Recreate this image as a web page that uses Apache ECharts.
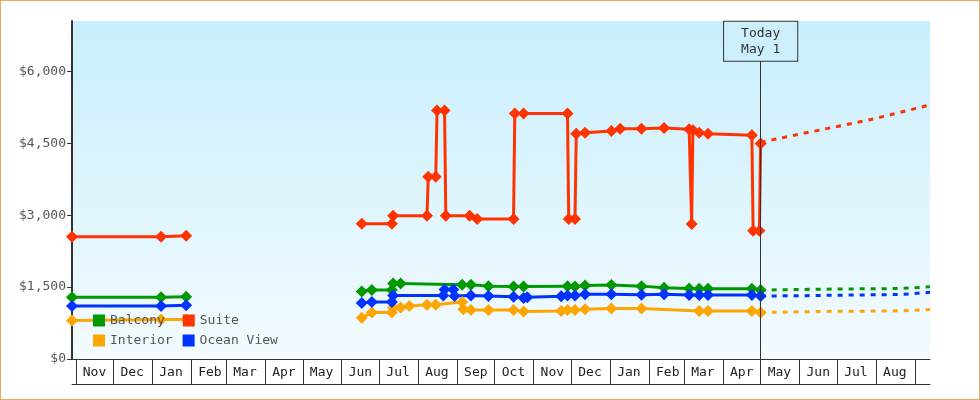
<!DOCTYPE html>
<html><head><meta charset="utf-8">
<script src="https://cdn.jsdelivr.net/npm/echarts@6/dist/echarts.min.js"></script>
<style>html,body{margin:0;padding:0;background:#fff}#c{width:978px;height:398px;border:1px solid #e8a860}</style>
</head><body><div id="c"></div>
<script>
const monthNames = ['Jan','Feb','Mar','Apr','May','Jun','Jul','Aug','Sep','Oct','Nov','Dec'];
const yTicks = [0,1500,3000,4500,6000];
const today = '2023-05-01';
const firstMonth = '2021-11-01', lastMonth = '2023-08-01';

const suite = [['2021-10-29',2550],['2022-01-08',2550],['2022-01-28',2570],null,
 ['2022-06-17',2820],['2022-07-11',2820],['2022-07-12',2986],['2022-08-08',2986],['2022-08-09',3800],['2022-08-15',3800],
 ['2022-08-16',5185],['2022-08-22',5185],['2022-08-23',2986],['2022-09-11',2986],['2022-09-17',2920],['2022-10-16',2920],
 ['2022-10-17',5123],['2022-10-24',5123],['2022-11-28',5123],['2022-11-29',2920],['2022-12-04',2920],['2022-12-05',4700],
 ['2022-12-12',4720],['2023-01-02',4756],['2023-01-09',4800],['2023-01-26',4800],['2023-02-13',4818],['2023-03-05',4791],
 ['2023-03-07',2814],['2023-03-08',4770],['2023-03-13',4720],['2023-03-20',4700],['2023-04-24',4667],['2023-04-25',2675],
 ['2023-04-30',2675],['2023-05-01',4494]];
const balcony = [['2021-10-29',1290],['2022-01-08',1290],['2022-01-28',1300],null,
 ['2022-06-17',1410],['2022-06-25',1437],['2022-07-11',1437],['2022-07-12',1576],['2022-07-18',1576],['2022-09-05',1549],
 ['2022-09-12',1549],['2022-09-26',1520],['2022-10-16',1514],['2022-10-24',1514],['2022-11-28',1520],['2022-12-04',1510],
 ['2022-12-12',1535],['2023-01-02',1541],['2023-01-26',1520],['2023-02-13',1487],['2023-03-05',1472],['2023-03-13',1466],
 ['2023-03-20',1466],['2023-04-24',1466],['2023-05-01',1437]];
const oceanView = [['2021-10-29',1105],['2022-01-08',1105],['2022-01-28',1120],null,
 ['2022-06-17',1168],['2022-06-25',1188],['2022-07-11',1188],['2022-07-12',1327],['2022-08-21',1327],['2022-08-22',1452],
 ['2022-08-29',1452],['2022-08-30',1313],['2022-09-12',1327],['2022-09-26',1313],['2022-10-16',1300],['2022-10-24',1272],
 ['2022-10-27',1286],['2022-11-23',1307],['2022-11-28',1327],['2022-12-04',1327],['2022-12-12',1348],['2023-01-02',1348],
 ['2023-01-26',1342],['2023-02-13',1348],['2023-03-05',1334],['2023-03-13',1334],['2023-03-20',1334],['2023-04-24',1334],
 ['2023-05-01',1313]];
const interior = [['2021-10-29',803],['2022-01-08',823],['2022-01-28',823],null,
 ['2022-06-17',860],['2022-06-25',968],['2022-07-11',968],['2022-07-12',1072],['2022-07-18',1072],['2022-07-25',1106],
 ['2022-08-08',1134],['2022-08-15',1134],['2022-09-05',1188],['2022-09-06',1037],['2022-09-12',1023],['2022-09-26',1023],
 ['2022-10-16',1023],['2022-10-24',989],['2022-11-23',1002],['2022-11-28',1023],['2022-12-04',1023],['2022-12-12',1037],
 ['2023-01-02',1051],['2023-01-26',1051],['2023-03-13',1002],['2023-03-20',1002],['2023-04-24',1002],['2023-05-01',968]];

const suiteFc = [['2023-05-01',4520],['2023-06-01',4690],['2023-07-01',4850],['2023-08-01',5020],['2023-09-13',5300]];
const balconyFc = [['2023-05-01',1437],['2023-06-01',1450],['2023-07-01',1460],['2023-08-01',1465],['2023-08-20',1470],['2023-08-21',1500],['2023-09-13',1505]];
const oceanFc = [['2023-05-01',1313],['2023-06-01',1320],['2023-07-01',1330],['2023-08-01',1340],['2023-08-20',1345],['2023-08-21',1385],['2023-09-13',1390]];
const interiorFc = [['2023-05-01',968],['2023-06-01',985],['2023-07-01',995],['2023-08-01',1000],['2023-08-20',1005],['2023-08-21',1025],['2023-09-13',1030]];

const colors = {Balcony:'#009900', Suite:'#ff3300', Interior:'#ffa500', 'Ocean View':'#0033ff'};
const font = 'DejaVu Sans Mono';
const chart = echarts.init(document.getElementById('c'));
function solid(name, data){return {name, type:'line', data, connectNulls:false, color:colors[name],
  symbol:'diamond', symbolSize:12, showSymbol:true, lineStyle:{width:3}, animation:false, z:3};}
function dash(name, data){return {name:name+' forecast', type:'line', data, color:colors[name], symbol:'none',
  lineStyle:{width:3, type:[5,6]}, animation:false, z:2};}
const xMin = '2021-10-29', xMax = '2023-09-13';
const t0 = new Date(firstMonth).getTime(), t1 = new Date(lastMonth).getTime() + 5*864e5;
chart.setOption({
  animation:false,
  textStyle:{fontFamily:font},
  grid:{left:71, right:49, top:20, bottom:40, show:true, borderWidth:0,
    backgroundColor:new echarts.graphic.LinearGradient(0,0,0,1,[{offset:0,color:'#c8eefc'},{offset:1,color:'#f3fbff'}])},
  legend:[
    {data:['Balcony','Suite'], left:92, top:313, itemWidth:12, itemHeight:12, itemGap:18, icon:'rect',
      textStyle:{fontFamily:font, fontSize:13, color:'#555'}, padding:0},
    {data:['Interior','Ocean View'], left:92, top:333, itemWidth:12, itemHeight:12, itemGap:10, icon:'rect',
      textStyle:{fontFamily:font, fontSize:13, color:'#555'}, padding:0}],
  xAxis:[{type:'time', min:xMin, max:xMax, minInterval:28*864e5, maxInterval:31*864e5, splitNumber:24,
    axisLine:{lineStyle:{color:'#333', width:1}}, splitLine:{show:false},
    axisTick:{show:true, length:25, lineStyle:{color:'#333'}},
    axisLabel:{formatter:v=>(v<t0||v>t1)?'':monthNames[new Date(v).getMonth()], align:'left', padding:[0,0,0,7], margin:7,
      fontFamily:font, fontSize:13, color:'#222', showMinLabel:false, showMaxLabel:false}},
   {type:'time', min:xMin, max:xMax, position:'bottom', offset:25, axisLine:{lineStyle:{color:'#333'}},
    axisTick:{show:false}, axisLabel:{show:false}, splitLine:{show:false}}],
  yAxis:{type:'value', min:0, max:7050, interval:1500,
    axisLine:{show:true, lineStyle:{color:'#333', width:2}},
    axisTick:{show:true, length:5, lineStyle:{color:'#333'}, customValues:yTicks}, splitLine:{show:false},
    axisLabel:{customValues:yTicks, formatter:v=>'$'+v.toLocaleString('en-US'), fontFamily:font, fontSize:13, color:'#555', margin:6}},
  series:[
    solid('Balcony', balcony), solid('Suite', suite), solid('Interior', interior), solid('Ocean View', oceanView),
    dash('Balcony', balconyFc), dash('Suite', suiteFc), dash('Interior', interiorFc), dash('Ocean View', oceanFc),
    {name:'today', type:'line', data:[], markLine:{silent:true, symbol:['none','none'], animation:false,
      lineStyle:{color:'#333', width:1, type:'solid'},
      label:{show:true, position:'end', distance:0, formatter:'Today\nMay 1', fontFamily:font, fontSize:13, color:'#333',
        backgroundColor:'#cdeffc', borderColor:'#333', borderWidth:1, padding:[4,17,3,17], lineHeight:16},
      data:[[{coord:[today,0]},{coord:[today,6220]}]]}}
  ]
});
</script></body></html>
